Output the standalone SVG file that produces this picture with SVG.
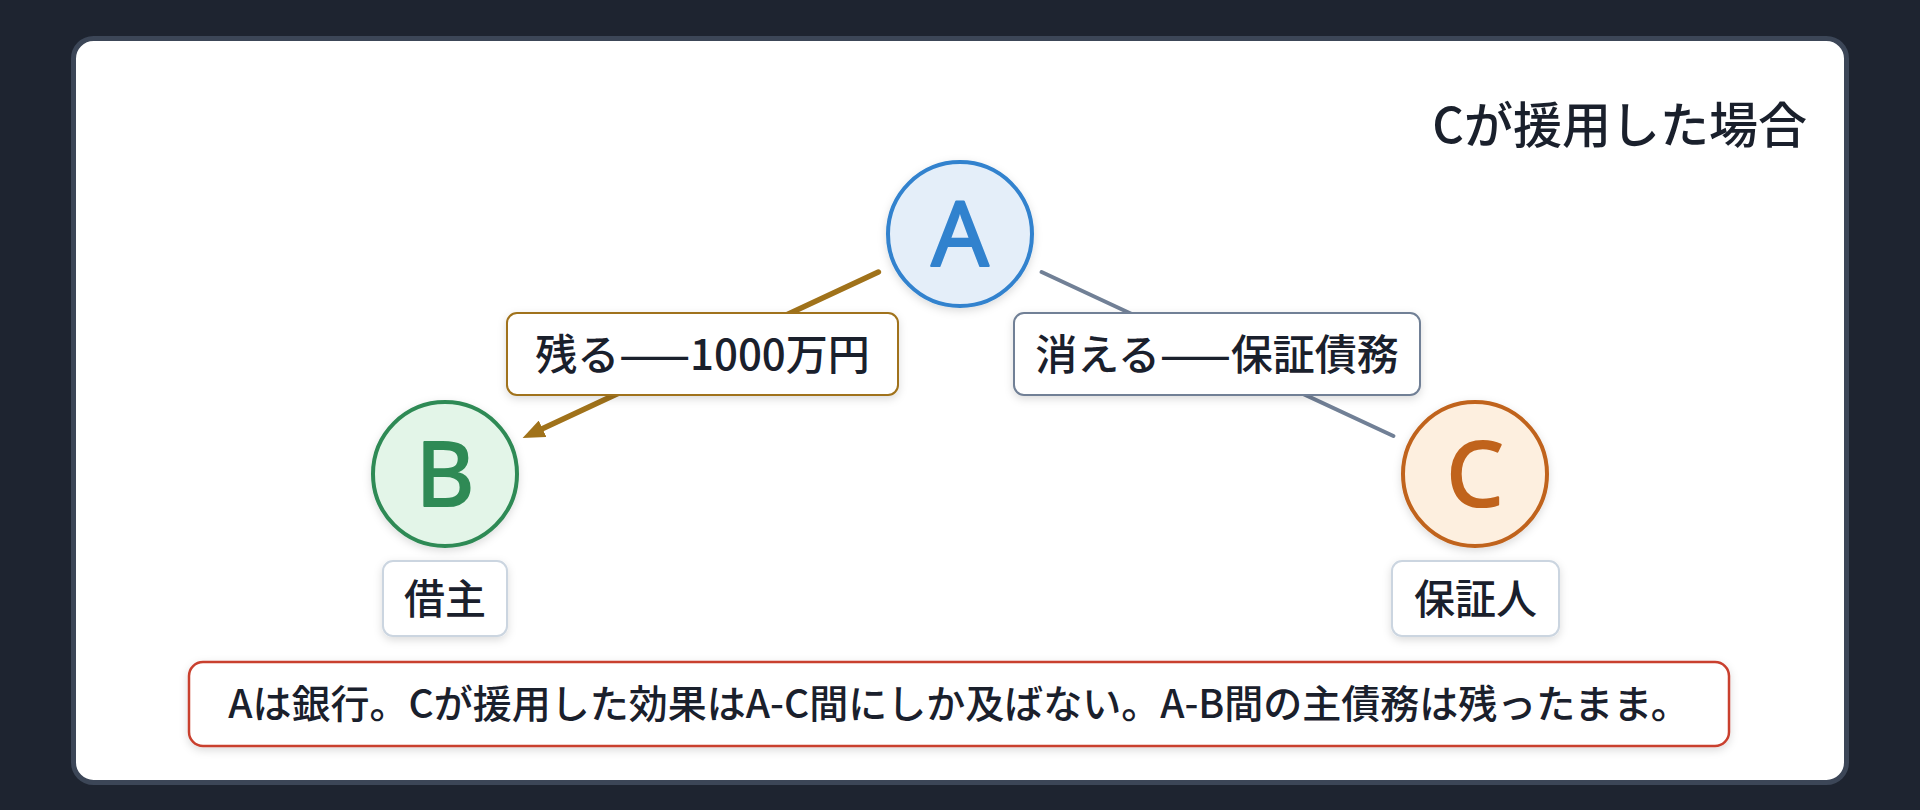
<svg xmlns="http://www.w3.org/2000/svg" width="1920" height="810" viewBox="0 0 1920 810">
  <style>
    .t { font-family: "Noto Sans CJK JP", "Noto Sans", sans-serif; fill: #1a202c; font-weight: 500; }
    .lbl { font-size: 42px; text-anchor: middle; }
    .name { font-size: 41px; text-anchor: middle; }
    .big { font-family: "Noto Sans", "Liberation Sans", sans-serif; font-size: 90px; font-weight: 400; text-anchor: middle; stroke-width: 2.2; stroke-linejoin: round; }
    .edgebox { fill: #ffffff; stroke-width: 2; }
    .namebox { fill: #ffffff; stroke: #cbd5e0; stroke-width: 2; }
  </style>
  <defs>
    <filter id="sh" x="-20%" y="-20%" width="140%" height="150%">
      <feDropShadow dx="0" dy="3" stdDeviation="4" flood-color="#000000" flood-opacity="0.14"/>
    </filter>
    <marker id="arrGold" viewBox="0 0 22 18" refX="8" refY="9" markerWidth="22" markerHeight="18" markerUnits="userSpaceOnUse" orient="auto">
      <path d="M0,0 L22,9 L0,18 z" fill="#a0721a"/>
    </marker>
  </defs>

  <rect x="0" y="0" width="1920" height="810" fill="#1e2430"/>
  <rect x="73.5" y="38.5" width="1773" height="744" rx="20" fill="#ffffff" stroke="#3c4657" stroke-width="5"/>

  <text id="title" class="t" x="1807" y="143" font-size="49" text-anchor="end">Cが援用した場合</text>

  <g id="connectors">
    <line x1="878.4" y1="272" x2="535.3" y2="432.1" stroke="#a0721a" stroke-width="5.5" stroke-linecap="round" marker-end="url(#arrGold)"/>
    <line x1="1041.6" y1="272" x2="1393.4" y2="436" stroke="#718096" stroke-width="4" stroke-linecap="round"/>
    <g id="edge-label-AB">
      <rect class="edgebox" x="507" y="313" width="391" height="82" rx="10" stroke="#a0721a" filter="url(#sh)"/>
      <text class="t lbl" x="702.5" y="370">残る——1000万円</text>
    </g>
    <g id="edge-label-AC">
      <rect class="edgebox" x="1014" y="313" width="406" height="82" rx="10" stroke="#718096" filter="url(#sh)"/>
      <text class="t lbl" x="1217" y="370">消える——保証債務</text>
    </g>
  </g>

  <g id="node-A">
    <circle cx="960" cy="234" r="72" fill="#e4eef9" stroke="#3182ce" stroke-width="4" filter="url(#sh)"/>
    <text class="big" x="960" y="266" fill="#3182ce" stroke="#3182ce">A</text>
  </g>

  <g id="node-B">
    <circle cx="445" cy="474" r="72" fill="#e3f5e8" stroke="#2f8a55" stroke-width="4" filter="url(#sh)"/>
    <text class="big" x="445" y="506" fill="#2f8a55" stroke="#2f8a55">B</text>
    <rect class="namebox" x="383" y="561" width="124" height="75" rx="10" filter="url(#sh)"/>
    <text class="t name" x="445" y="614">借主</text>
  </g>

  <g id="node-C">
    <circle cx="1475" cy="474" r="72" fill="#fdefdf" stroke="#c0631c" stroke-width="4" filter="url(#sh)"/>
    <text class="big" x="1475" y="506" fill="#c0631c" stroke="#c0631c">C</text>
    <rect class="namebox" x="1392" y="561" width="167" height="75" rx="10" filter="url(#sh)"/>
    <text class="t name" x="1475.5" y="614">保証人</text>
  </g>

  <g id="note">
    <rect x="189" y="662" width="1540" height="84" rx="14" fill="#ffffff" stroke="#c9402e" stroke-width="2.5" filter="url(#sh)"/>
    <text class="t" x="959" y="718" font-size="39" text-anchor="middle">Aは銀行。Cが援用した効果はA-C間にしか及ばない。A-B間の主債務は残ったまま。</text>
  </g>
</svg>
